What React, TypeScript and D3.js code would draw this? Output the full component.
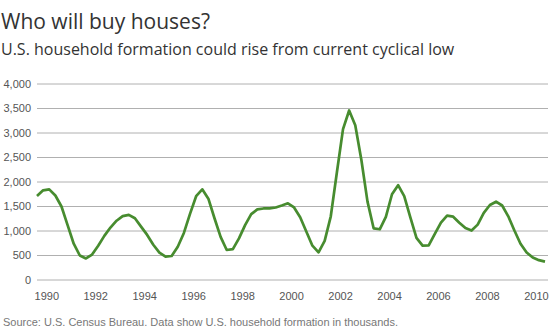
import React from "react";
import * as d3 from "d3";

const title = "Who will buy houses?";
const subtitle = "U.S. household formation could rise from current cyclical low";
const source = "Source: U.S. Census Bureau. Data show U.S. household formation in thousands.";

// Quarterly observations starting at 1989.6 (fractional years), thousands of households
const startYear = 1989.6;
const step = 0.25;
const values = [
  1714, 1830, 1850, 1725, 1500, 1120, 740, 500, 440, 520,
  700, 900, 1070, 1210, 1305, 1330, 1260, 1090, 920, 720,
  560, 476, 490, 680, 960, 1350, 1710, 1850, 1660, 1260,
  880, 612, 630, 850, 1120, 1345, 1440, 1460, 1463, 1480,
  1520, 1565, 1480, 1280, 990, 700, 565, 800, 1300, 2200,
  3080, 3460, 3160, 2450, 1600, 1055, 1035, 1290, 1750, 1935,
  1710, 1280, 860, 700, 705, 940, 1170, 1313, 1292, 1170,
  1060, 1010, 1130, 1370, 1530, 1598, 1520, 1300, 1010, 740,
  560, 460, 405, 374,
];
const yTicks = [0, 500, 1000, 1500, 2000, 2500, 3000, 3500, 4000];
const xTicks = [1990, 1992, 1994, 1996, 1998, 2000, 2002, 2004, 2006, 2008, 2010];

export default function App() {
  const W = 550, H = 335;
  const left = 37, right = 545, top = 84, bottom = 280;
  const data = values.map((v, i) => ({ t: startYear + i * step, v }));
  const x = d3.scaleLinear().domain([startYear, startYear + (values.length - 1) * step]).range([left, right]);
  const y = d3.scaleLinear().domain([0, 4000]).range([bottom, top]);
  const line = d3.line<{ t: number; v: number }>().x(d => x(d.t)).y(d => y(d.v));
  const fmt = d3.format(",");
  return (
    <svg width={W} height={H} style={{ position: "absolute", left: 0, top: 0, background: "#fff" }}>
      <text x={1} y={29} fontFamily="'Open Sans', sans-serif" fontSize={21} fontWeight={500} fill="#333">{title}</text>
      <text x={1} y={55} fontFamily="'Open Sans', sans-serif" fontSize={16} fontWeight={500} fill="#333">{subtitle}</text>
      {yTicks.map(t => (
        <g key={t}>
          <line x1={left} x2={548} y1={y(t)} y2={y(t)} stroke="#b0b0b0" strokeWidth={1} />
          <text x={31} y={y(t)} dy="0.35em" textAnchor="end" fontFamily="'Liberation Sans', Arial, sans-serif" fontSize={11} fill="#555">{fmt(t)}</text>
        </g>
      ))}
      {xTicks.map(t => (
        <text key={t} x={x(t)} y={300} textAnchor="middle" fontFamily="'Liberation Sans', Arial, sans-serif" fontSize={11} fill="#555">{t}</text>
      ))}
      <path d={line(data) || ""} fill="none" stroke="#478c2f" strokeWidth={2.7} strokeLinejoin="round" />
      <text x={3} y={326} fontFamily="'Liberation Sans', Arial, sans-serif" fontSize={11} fill="#777">{source}</text>
    </svg>
  );
}
